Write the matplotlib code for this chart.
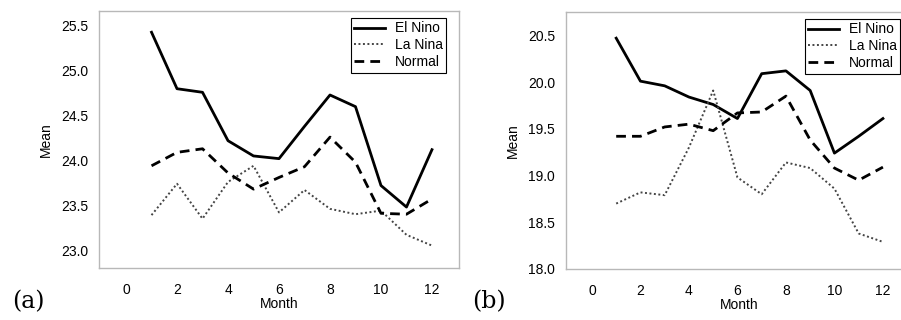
import numpy as np
import matplotlib
matplotlib.use("Agg")
import matplotlib.pyplot as plt

months = [1, 2, 3, 4, 5, 6, 7, 8, 9, 10, 11, 12]

# panel (a)
a_elnino = [25.43, 24.80, 24.76, 24.22, 24.05, 24.02, 24.38, 24.73, 24.60, 23.72, 23.48, 24.12]
a_lanina = [23.39, 23.74, 23.35, 23.76, 23.94, 23.42, 23.67, 23.46, 23.40, 23.44, 23.17, 23.05]
a_normal = [23.94, 24.09, 24.13, 23.86, 23.68, 23.81, 23.93, 24.26, 23.98, 23.41, 23.40, 23.57]

# panel (b)
b_elnino = [20.47, 20.01, 19.96, 19.84, 19.76, 19.61, 20.09, 20.12, 19.91, 19.24, 19.42, 19.61]
b_lanina = [18.70, 18.82, 18.79, 19.30, 19.91, 18.98, 18.80, 19.14, 19.08, 18.86, 18.38, 18.29]
b_normal = [19.42, 19.42, 19.52, 19.55, 19.48, 19.67, 19.68, 19.85, 19.38, 19.08, 18.95, 19.09]

plt.rcParams['font.family'] = ['Liberation Sans', 'DejaVu Sans']
plt.rcParams['font.size'] = 10

fig = plt.figure(figsize=(9.01, 3.2), dpi=100)
W, H = 901, 320

def panel(box, el, la, no, xlim, ylim, yticks):
    l, t, r, b = box
    ax = fig.add_axes([l / W, 1 - b / H, (r - l) / W, (b - t) / H])
    ax.plot(months, el, color='black', lw=2.0, ls='-', label='El Nino')
    ax.plot(months, la, color='#444444', lw=1.4, ls=(0, (1, 1.3)), label='La Nina')
    ax.plot(months, no, color='black', lw=2.0, ls=(0, (3.5, 2.2)), label='Normal')
    ax.set_xlim(*xlim)
    ax.set_ylim(*ylim)
    ax.set_xticks([0, 2, 4, 6, 8, 10, 12])
    ax.set_yticks(yticks)
    ax.set_yticklabels([f"{v:.1f}" for v in yticks])
    ax.tick_params(axis='y', length=0, pad=8)
    ax.tick_params(axis='x', length=0, pad=11)
    for s in ax.spines.values():
        s.set_color('#b8b8b8')
        s.set_linewidth(1.0)
    ax.set_xlabel('Month', labelpad=0)
    ax.set_ylabel('Mean', labelpad=6)
    # legend corner sits 13 px left of and 7 px below the frame corner
    anchor = (1 - 13 / (r - l), 1 - 7 / (b - t))
    leg = ax.legend(loc='upper right', bbox_to_anchor=anchor, borderaxespad=0,
                    fancybox=False, framealpha=1, edgecolor='black',
                    borderpad=0.25, handlelength=2.2, labelspacing=0.2,
                    fontsize=10, handletextpad=0.7)
    leg.get_frame().set_linewidth(0.8)
    return ax

panel((99, 11, 459, 268), a_elnino, a_lanina, a_normal, (-1.06, 13.06),
      (22.80, 25.667), [23.0, 23.5, 24.0, 24.5, 25.0, 25.5])
panel((566, 12, 913, 269), b_elnino, b_lanina, b_normal, (-1.07, 13.24),
      (18.04, 20.75), [18.0, 18.5, 19.0, 19.5, 20.0, 20.5])

fig.text(28 / W, 1 - 302 / H, '(a)', family='DejaVu Serif', fontsize=17,
         ha='center', va='center')
fig.text(489 / W, 1 - 302 / H, '(b)', family='DejaVu Serif', fontsize=17,
         ha='center', va='center')

fig.savefig('out.png', dpi=100)
